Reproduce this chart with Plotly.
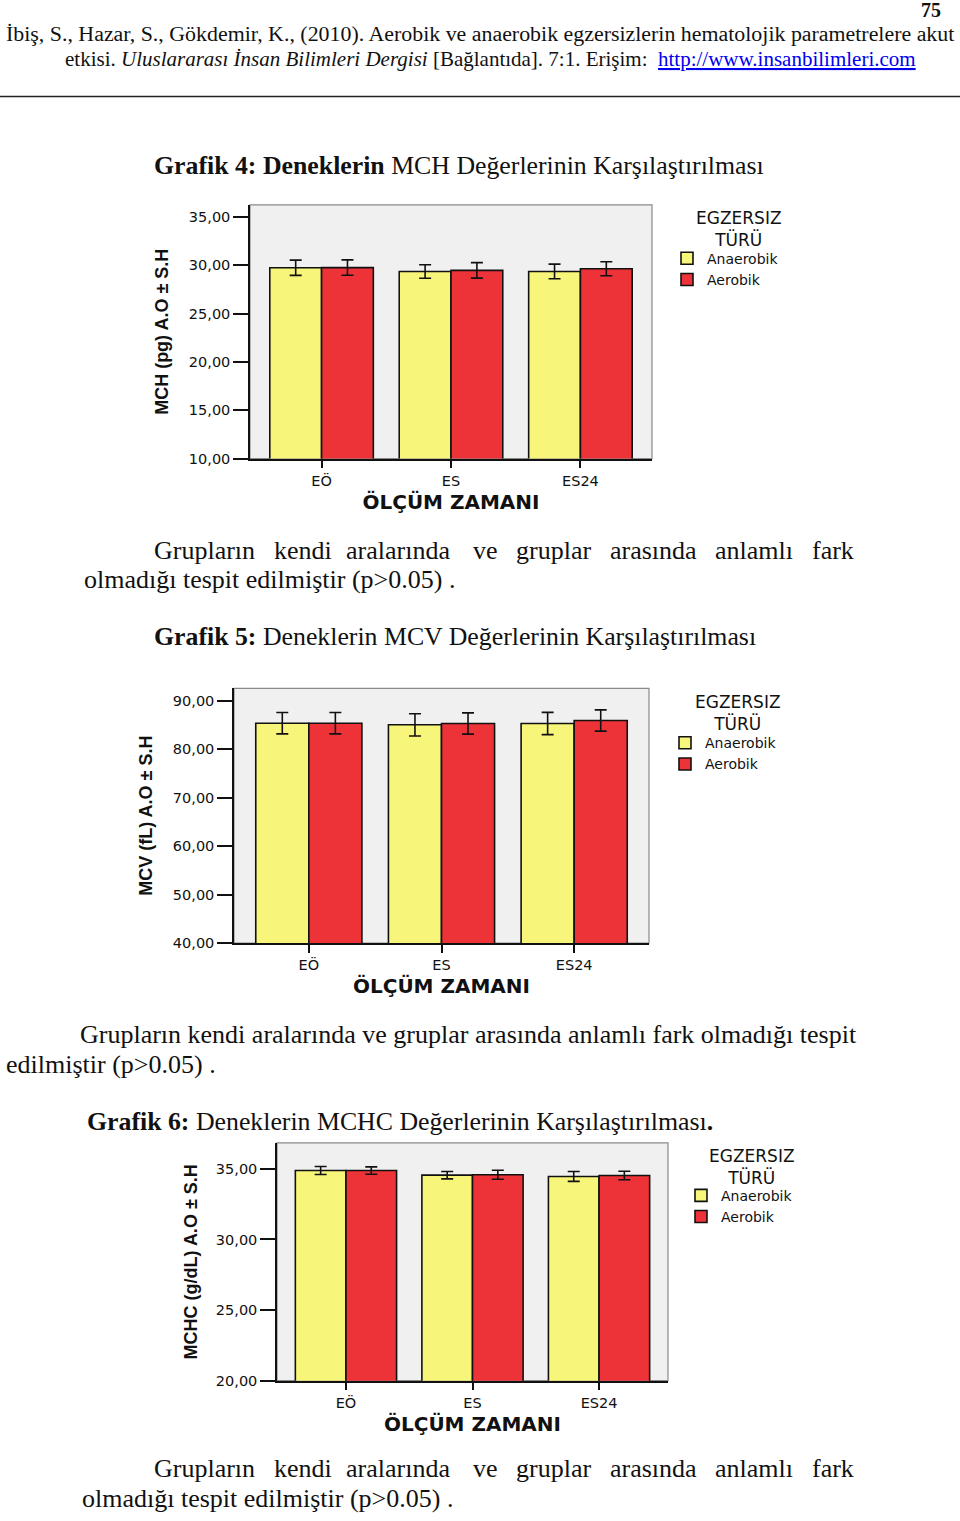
import plotly.graph_objects as go

W, H = 960, 1521

categories = ["EÖ", "ES", "ES24"]
series_names = ["Anaerobik", "Aerobik"]

mch_anaerobik = [29.73, 29.35, 29.35]
mch_aerobik = [29.75, 29.46, 29.63]
mch_anaerobik_err = [0.79, 0.70, 0.76]
mch_aerobik_err = [0.80, 0.80, 0.72]

mcv_anaerobik = [85.4, 85.07, 85.34]
mcv_aerobik = [85.4, 85.34, 85.96]
mcv_anaerobik_err = [2.2, 2.3, 2.3]
mcv_aerobik_err = [2.2, 2.2, 2.2]

mchc_anaerobik = [34.88, 34.55, 34.46]
mchc_aerobik = [34.88, 34.58, 34.53]
mchc_anaerobik_err = [0.28, 0.26, 0.35]
mchc_aerobik_err = [0.26, 0.32, 0.30]

mch_ticks = [10, 15, 20, 25, 30, 35]
mcv_ticks = [40, 50, 60, 70, 80, 90]
mchc_ticks = [20, 25, 30, 35]

YELLOW = "#F8F67A"
RED = "#EE3338"
SANS = "DejaVu Sans"
SERIF = "Liberation Serif"
NARROW = "Liberation Sans Narrow, Liberation Sans, Arial"


def px(x):
    return x / W


def py(y):
    return 1 - y / H


fig = go.Figure()

charts = [
    dict(a=mch_anaerobik, b=mch_aerobik, ea=mch_anaerobik_err, eb=mch_aerobik_err,
         ticks=mch_ticks, yr=[10, 36.23], xr=[-0.553, 2.553],
         xd=[250, 652], yd=[206, 461], title="MCH (pg) A.O ± S.H",
         leg=[667, 244], legt=[739, 230], std=16),
    dict(a=mcv_anaerobik, b=mcv_aerobik, ea=mcv_anaerobik_err, eb=mcv_aerobik_err,
         ticks=mcv_ticks, yr=[40, 92.6], xr=[-0.564, 2.564],
         xd=[234, 649], yd=[692, 948], title="MCV (fL) A.O ± S.H",
         leg=[665, 731], legt=[738, 717], std=16),
    dict(a=mchc_anaerobik, b=mchc_aerobik, ea=mchc_anaerobik_err, eb=mchc_aerobik_err,
         ticks=mchc_ticks, yr=[20, 36.83], xr=[-0.545, 2.545],
         xd=[277, 668], yd=[1149, 1388], title="MCHC (g/dL) A.O ± S.H",
         leg=[681, 1186], legt=[752, 1173], std=14),
]

annotations = []


def text(x, y, t, size=26, family=SERIF, anchor="left", color="#111111", yanchor="middle", align="left"):
    annotations.append(dict(x=px(x), y=py(y), xref="paper", yref="paper", text=t,
                            showarrow=False, xanchor=anchor, yanchor=yanchor, align=align,
                            font=dict(family=family, size=size, color=color)))


for i, c in enumerate(charts):
    k = "" if i == 0 else str(i + 1)
    legname = "legend" if i == 0 else "legend" + str(i + 1)
    for name, vals, errs, col in [(series_names[0], c["a"], c["ea"], YELLOW),
                                  (series_names[1], c["b"], c["eb"], RED)]:
        fig.add_trace(go.Bar(
            x=categories, y=vals, name=name,
            marker=dict(color=col, line=dict(color="#111111", width=1.6)),
            error_y=dict(type="data", array=errs, visible=True, color="#111111",
                         thickness=1.6, width=6),
            xaxis="x" + k, yaxis="y" + k, legend=legname,
        ))
    fig.layout["xaxis" + k] = dict(
        domain=[px(c["xd"][0]), px(c["xd"][1])], anchor="y" + k,
        range=c["xr"], type="category",
        showline=True, linecolor="#111111", linewidth=1.5, mirror=False,
        ticks="outside", ticklen=8, tickwidth=1.5, tickcolor="#111111",
        tickfont=dict(family=SANS, size=14.5, color="#111111"),
        title=dict(text="ÖLÇÜM ZAMANI", font=dict(family=SANS, size=20, color="#111111", weight="bold"),
                   standoff=7),
        showgrid=False, fixedrange=True,
    )
    fig.layout["yaxis" + k] = dict(
        domain=[py(c["yd"][1]), py(c["yd"][0])], anchor="x" + k,
        range=c["yr"], tickvals=c["ticks"], tickformat=".2f",
        showline=True, linecolor="#111111", linewidth=1.5,
        ticks="outside", ticklen=15, tickwidth=1.5, tickcolor="#111111",
        tickfont=dict(family=SANS, size=14.5, color="#111111"),
        title=dict(text=c["title"], font=dict(family=NARROW, size=18, color="#111111", weight="bold"),
                   standoff=c["std"]),
        showgrid=False, zeroline=False, fixedrange=True,
    )
    fig.add_shape(type="rect", xref="x" + k + " domain", yref="y" + k + " domain",
                  x0=0, x1=1, y0=0, y1=1, line=dict(color="#8a8a8a", width=1.2), layer="below",
                  fillcolor="#F0F0F0")
    fig.layout[legname] = dict(
        x=px(c["leg"][0]), y=py(c["leg"][1]), xanchor="left", yanchor="top",
        bgcolor="rgba(0,0,0,0)",
        font=dict(family=SANS, size=14, color="#111111"),
        tracegroupgap=0, itemwidth=30, traceorder="normal",
    )
    text(c["legt"][0], c["legt"][1], "EGZERSIZ<br>TÜRÜ", size=17, family=SANS, anchor="center",
         align="center")


text(943, -3, "<b>75</b>", size=20, anchor="right", yanchor="top")
text(4, 34, "İbiş, S., Hazar, S., Gökdemir, K., (2010). Aerobik ve anaerobik egzersizlerin hematolojik parametrelere akut", size=21.9)
text(63, 59, "etkisi. <i>Uluslararası İnsan Bilimleri Dergisi</i> [Bağlantıda]. 7:1. Erişim:  "
     "<span style='color:#0000EE'><u>http://www.insanbilimleri.com</u></span>", size=21.0)

text(152, 166, "<b>Grafik 4: Deneklerin</b> MCH Değerlerinin Karşılaştırılması", size=25.8)

just_words = ["Grupların", "kendi", "aralarında", "ve", "gruplar", "arasında", "anlamlı", "fark"]
just_x = [152, 272, 344, 471, 514, 608, 713, 810]
for w, x in zip(just_words, just_x):
    text(x, 553, w)
text(82, 583, "olmadığı tespit edilmiştir (p>0.05) .")

text(152, 640, "<b>Grafik 5:</b> Deneklerin MCV Değerlerinin Karşılaştırılması", size=25.8)

text(78, 1040, "Grupların kendi aralarında ve gruplar arasında anlamlı fark olmadığı tespit")
text(4, 1070, "edilmiştir (p>0.05) .")

text(85, 1127, "<b>Grafik 6:</b> Deneklerin MCHC Değerlerinin Karşılaştırılması<b>.</b>", size=25.8)

for w, x in zip(just_words, just_x):
    text(x, 1476, w)
text(80, 1506, "olmadığı tespit edilmiştir (p>0.05) .")

fig.add_shape(type="line", xref="paper", yref="paper", x0=0, x1=1, y0=py(97), y1=py(97),
              line=dict(color="#222222", width=1.5))

fig.update_layout(
    width=W, height=H, margin=dict(l=0, r=0, t=0, b=0),
    paper_bgcolor="white", plot_bgcolor="rgba(0,0,0,0)",
    barmode="group", bargap=0.2, bargroupgap=0,
    separators=",.",
    annotations=annotations,
    showlegend=True,
)

fig.write_html("out.html")
